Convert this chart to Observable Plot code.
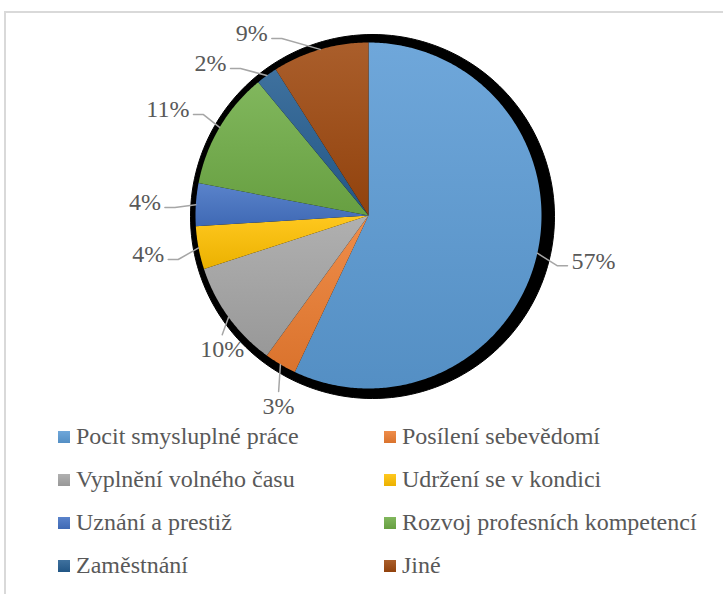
<!DOCTYPE html>
<html>
<head>
<meta charset="utf-8">
<script src="https://cdn.jsdelivr.net/npm/d3@7"></script>
<script src="https://cdn.jsdelivr.net/npm/@observablehq/plot@0.6"></script>
<style>
  html, body { margin: 0; padding: 0; background: #fff; overflow: hidden; width: 723px; height: 594px; }
  body { position: relative; font-family: "Liberation Serif", Tinos, "Times New Roman", Times, "Nimbus Roman", "DejaVu Serif", serif; }
  #chart { position: absolute; left: 0; top: 0; }
  #frame { position: absolute; left: 4px; top: 11px; width: 760px; height: 640px;
           border-left: 2px solid #d9d9d9; border-top: 2px solid #d9d9d9; pointer-events: none; }
  #legend { position: absolute; left: 58px; top: 415px; display: grid;
            grid-template-columns: 326px 330px; grid-auto-rows: 43px; }
  .item { display: flex; align-items: center; font-size: 24px; color: #595959; white-space: nowrap; }
  .sw { width: 12px; height: 12px; margin-right: 6px; flex: none; }
</style>
</head>
<body>
<div id="chart"></div>
<div id="legend"></div>
<div id="frame"></div>
<script>
// ---- data ----
const categories = [
  "Pocit smysluplné práce",
  "Posílení sebevědomí",
  "Vyplnění volného času",
  "Udržení se v kondici",
  "Uznání a prestiž",
  "Rozvoj profesních kompetencí",
  "Zaměstnání",
  "Jiné"
];
const shares = [57, 3, 10, 4, 4, 11, 2, 9];
const palette = ["#5B9BD5", "#ED7D31", "#A5A5A5", "#FFC000", "#4472C4", "#70AD47", "#255E91", "#9E480E"];

// ---- layout (pixels, relative to pie centre; y grows downward) ----
const W = 723, H = 425, CX = 368, CY = 215, R = 173;
const FONT = `"Liberation Serif", Tinos, "Times New Roman", Times, "Nimbus Roman", "DejaVu Serif", serif`;
const FS = 24;

const arcs = d3.pie().value(d => d).sort(null)(shares);

// slice polygons
const slices = arcs.map((a, i) => {
  const n = Math.max(4, Math.ceil((a.endAngle - a.startAngle) / 0.01));
  const pts = [{x: 0, y: 0}];
  for (let k = 0; k <= n; k++) {
    const t = a.startAngle + (a.endAngle - a.startAngle) * k / n;
    pts.push({x: R * Math.sin(t), y: -R * Math.cos(t)});
  }
  return pts;
});

// drop shadow circle (slightly larger, shifted right/down)
const shadow = d3.range(0, 361, 2).map(d => {
  const t = d * Math.PI / 180;
  return {x: 4 + (R + 9) * Math.sin(t), y: 1 - (R + 9) * Math.cos(t)};
});

// label placement
const ctx = document.createElement("canvas").getContext("2d");
ctx.font = `${FS}px ${FONT}`;
const RL = 208;
const info = arcs.map((a, i) => {
  const m = (a.startAngle + a.endAngle) / 2;
  return {i, m, text: `${shares[i]}%`, w: ctx.measureText(`${shares[i]}%`).width,
          px: RL * Math.sin(m), py: -RL * Math.cos(m),
          ex: R * Math.sin(m), ey: -R * Math.cos(m)};
});
// resolve left-side collisions
const left = info.filter(d => d.px < 0).sort((a, b) => a.py - b.py);
let prev = -Infinity;
for (const d of left) {
  let y = Math.max(d.py, -182, prev + 30);
  d.py = y;
  d.px = Math.abs(y) < RL ? -Math.sqrt(RL * RL - y * y) : d.px;
  prev = y;
}
const texts = [], leaders = [];
for (const d of info) {
  const deg = d.m * 180 / Math.PI;
  if (deg > 150 && deg < 240) {
    const cx = d.px + d.w / 2, cy = d.py + 12;
    texts.push({x: cx, y: cy, text: d.text});
    leaders.push({i: d.i, x: cx, y: d.py - 3}, {i: d.i, x: d.ex, y: d.ey});
  } else if (d.px < 0) {
    const cx = d.px - d.w / 2, cy = d.py;
    texts.push({x: cx, y: cy, text: d.text});
    leaders.push({i: d.i, x: d.px + 4, y: cy + 5}, {i: d.i, x: d.px + 14, y: cy + 5}, {i: d.i, x: d.ex, y: d.ey});
  } else {
    const cx = d.px + d.w / 2, cy = d.py;
    texts.push({x: cx, y: cy, text: d.text});
    leaders.push({i: d.i, x: d.px - 4, y: cy + 5}, {i: d.i, x: d.px - 14, y: cy + 5}, {i: d.i, x: d.ex, y: d.ey});
  }
}

const plot = Plot.plot({
  width: W,
  height: H,
  margin: 0,
  x: {domain: [-CX, W - CX], range: [0, W], axis: null},
  y: {domain: [-CY, H - CY], range: [0, H], axis: null},
  style: {background: "transparent", fontFamily: FONT},
  marks: [
    Plot.line(shadow, {x: "x", y: "y", fill: "black", stroke: "black", strokeWidth: 1}),
    ...slices.map((pts, i) => Plot.line(pts, {x: "x", y: "y", fill: `url(#grad${i})`, stroke: "none"})),
    Plot.line(leaders, {x: "x", y: "y", z: "i", stroke: "#a6a6a6", strokeWidth: 1.5}),
    Plot.text(texts, {x: "x", y: "y", text: "text", fontSize: FS, fill: "#595959", fontFamily: FONT, textAnchor: "middle"})
  ]
});

// gradients
const defs = d3.select(plot).insert("defs", ":first-child");
palette.forEach((c, i) => {
  const g = defs.append("linearGradient").attr("id", `grad${i}`)
    .attr("x1", 0).attr("y1", 0).attr("x2", 0).attr("y2", 1);
  g.append("stop").attr("offset", "0%").attr("stop-color", d3.interpolateRgb(c, "white")(0.12));
  g.append("stop").attr("offset", "100%").attr("stop-color", d3.interpolateRgb(c, "black")(0.08));
});

document.getElementById("chart").appendChild(plot);

// legend
const lg = d3.select("#legend");
categories.forEach((name, i) => {
  const it = lg.append("div").attr("class", "item");
  it.append("div").attr("class", "sw")
    .style("background", `linear-gradient(${d3.interpolateRgb(palette[i], "white")(0.12)}, ${d3.interpolateRgb(palette[i], "black")(0.08)})`);
  it.append("span").text(name);
});
</script>
</body>
</html>
